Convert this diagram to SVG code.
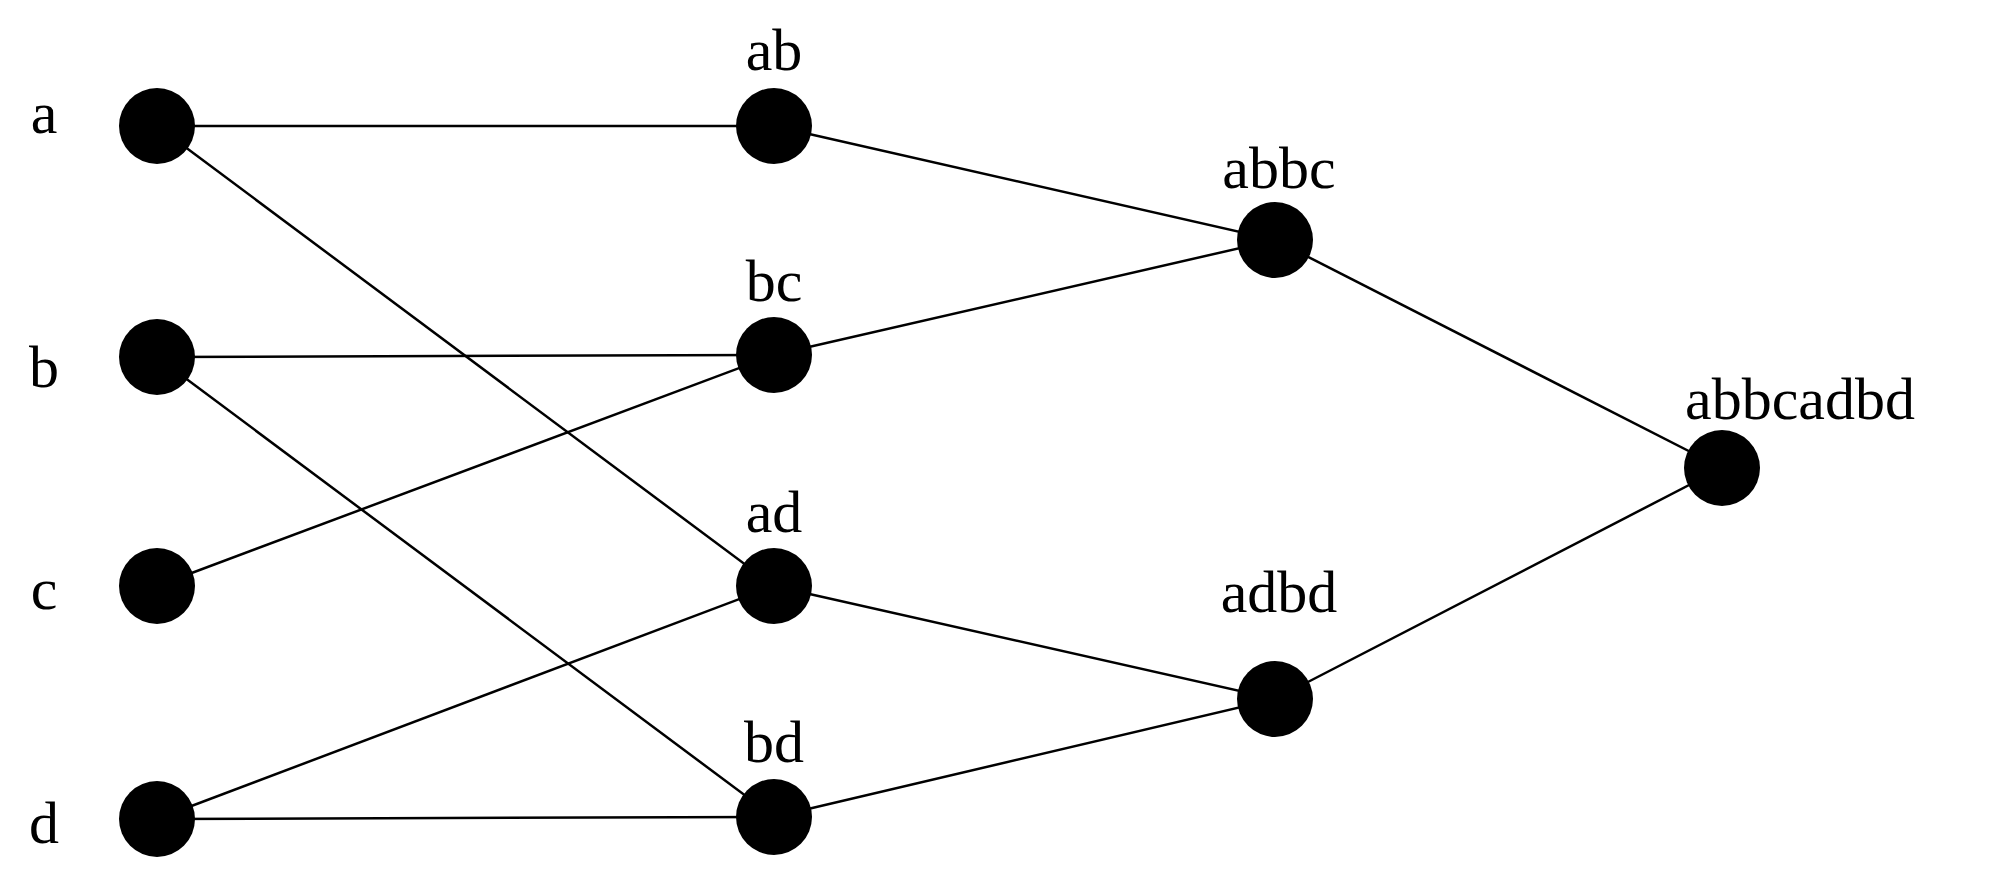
<svg xmlns="http://www.w3.org/2000/svg" width="1990" height="878" viewBox="0 0 1990 878">
<style>
.n{fill:#000}
.e line{stroke:#000;stroke-width:2.5}
text{font-family:"Liberation Serif",serif;font-size:60px;fill:#000}
.m{text-anchor:middle}
</style>
<rect width="1990" height="878" fill="#fff"/>
<g class="e" id="connectors">
<line x1="157" y1="126" x2="774" y2="126"/>
<line x1="157" y1="126" x2="774" y2="586"/>
<line x1="157" y1="357" x2="774" y2="355"/>
<line x1="157" y1="357" x2="774" y2="817"/>
<line x1="157" y1="586" x2="774" y2="355"/>
<line x1="157" y1="819" x2="774" y2="586"/>
<line x1="157" y1="819" x2="774" y2="817"/>
<line x1="774" y1="126" x2="1275" y2="240"/>
<line x1="774" y1="355" x2="1275" y2="240"/>
<line x1="774" y1="586" x2="1275" y2="699"/>
<line x1="774" y1="817" x2="1275" y2="699"/>
<line x1="1275" y1="240" x2="1722" y2="468"/>
<line x1="1275" y1="699" x2="1722" y2="468"/>
</g>
<g id="a"><circle class="n" cx="157" cy="126" r="38"/><text x="44" y="133" class="m">a</text></g>
<g id="b"><circle class="n" cx="157" cy="357" r="38"/><text x="44" y="387" class="m">b</text></g>
<g id="c"><circle class="n" cx="157" cy="586" r="38"/><text x="44" y="609" class="m">c</text></g>
<g id="d"><circle class="n" cx="157" cy="819" r="38"/><text x="44" y="843" class="m">d</text></g>
<g id="ab"><circle class="n" cx="774" cy="126" r="38"/><text x="774" y="70" class="m">ab</text></g>
<g id="bc"><circle class="n" cx="774" cy="355" r="38"/><text x="774" y="301" class="m">bc</text></g>
<g id="ad"><circle class="n" cx="774" cy="586" r="38"/><text x="774" y="532" class="m">ad</text></g>
<g id="bd"><circle class="n" cx="774" cy="817" r="38"/><text x="774" y="762" class="m">bd</text></g>
<g id="abbc"><circle class="n" cx="1275" cy="240" r="38"/><text x="1279" y="188" class="m">abbc</text></g>
<g id="adbd"><circle class="n" cx="1275" cy="699" r="38"/><text x="1279" y="612" class="m">adbd</text></g>
<g id="abbcadbd"><circle class="n" cx="1722" cy="468" r="38"/><text x="1800" y="419" class="m">abbcadbd</text></g>
</svg>
